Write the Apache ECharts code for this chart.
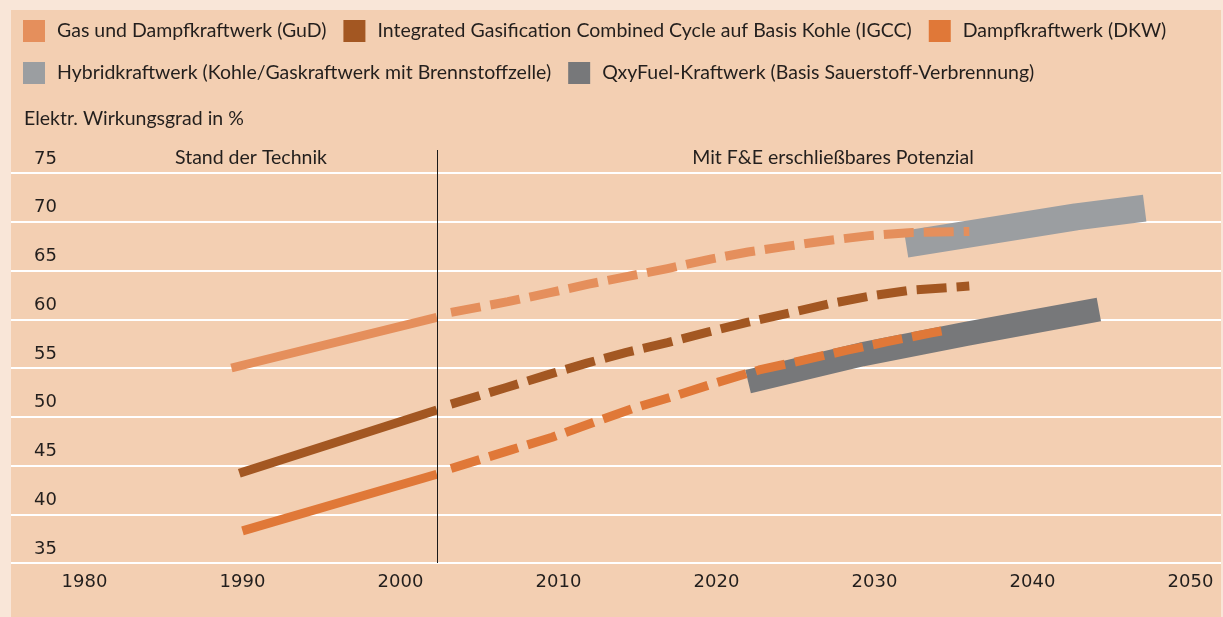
<!DOCTYPE html>
<html>
<head>
<meta charset="utf-8">
<script src="https://cdn.jsdelivr.net/npm/echarts@6/dist/echarts.min.js"></script>
<style>
  html, body { margin: 0; padding: 0; background: #f9e6d8; }
  #chart { width: 1223px; height: 617px; }
</style>
</head>
<body>
<div id="chart"></div>
<script>
// Elektrischer Wirkungsgrad von Kraftwerkstypen
const seriesNames = [
  "Gas und Dampfkraftwerk (GuD)",
  "Integrated Gasification Combined Cycle auf Basis Kohle (IGCC)",
  "Dampfkraftwerk (DKW)",
  "Hybridkraftwerk (Kohle/Gaskraftwerk mit Brennstoffzelle)",
  "QxyFuel-Kraftwerk (Basis Sauerstoff-Verbrennung)"
];
const seriesColors = ["#e58f5c", "#a35722", "#e07838", "#9b9ea1", "#77787a"];

const xTicks = [1980, 1990, 2000, 2010, 2020, 2030, 2040, 2050];
const yTicks = [35, 40, 45, 50, 55, 60, 65, 70, 75];

// [Jahr, Wirkungsgrad %]
const gudSolid = [[1989.3, 55.0], [2002.3, 60.2]];
const gudDashed = [[2003.2, 60.7], [2006.8, 61.8], [2009.4, 62.7], [2011.9, 63.6],
  [2014.4, 64.4], [2016.9, 65.2], [2019.7, 66.2], [2022.0, 66.9], [2024.5, 67.5], [2027.2, 68.1],
  [2029.8, 68.6], [2032.4, 68.9], [2036.0, 69.0]];
const igccSolid = [[1989.8, 44.2], [2002.3, 50.7]];
const igccDashed = [[2003.2, 51.3], [2006.7, 53.0], [2009.3, 54.3], [2011.8, 55.5],
  [2014.3, 56.6], [2016.9, 57.6], [2019.5, 58.7], [2022.0, 59.7], [2024.5, 60.6], [2027.2, 61.6],
  [2029.8, 62.4], [2032.4, 63.0], [2036.0, 63.4]];
const dkwSolid = [[1990.0, 38.3], [2002.3, 44.1]];
const dkwDashed = [[2003.2, 44.7], [2007.0, 46.6], [2009.6, 47.9], [2012.2, 49.4],
  [2014.8, 50.9], [2017.5, 52.2], [2020.0, 53.5], [2022.7, 54.8], [2025.5, 55.8], [2028.2, 56.8],
  [2030.8, 57.7], [2033.6, 58.6], [2034.6, 58.9]];
const hybrid = [[2032.0, 67.7], [2042.75, 70.5], [2047.1, 71.4]];
const oxyFuel = [[2022.0, 53.6], [2029.2, 56.4], [2035.8, 58.5], [2044.2, 61.0]];

const boundaryYear = 2002.3;
const yTitle = "Elektr. Wirkungsgrad in %";
const leftHeader = "Stand der Technik";
const rightHeader = "Mit F&E erschließbares Potenzial";

const textColor = "#231f1d";
const textFont = "Lato";
const tickFont = "DejaVu Sans";

const chart = echarts.init(document.getElementById("chart"));

const lineSeries = (idx, data, dashed, width, z) => ({
  name: seriesNames[idx],
  type: "line",
  data: data,
  color: seriesColors[idx],
  symbol: "none",
  smooth: false,
  z: z,
  lineStyle: {
    width: width,
    color: seriesColors[idx],
    type: dashed ? [30, 10] : "solid",
    cap: "butt",
    join: "round"
  }
});

const legendBase = {
  left: 23,
  padding: 0,
  itemWidth: 22,
  itemHeight: 22,
  itemGap: 17,
  icon: "rect",
  selectedMode: false,
  itemStyle: { borderWidth: 0 },
  textStyle: { fontFamily: textFont, fontSize: 19.5, color: textColor, padding: [9, 0, 0, 7] }
};

chart.setOption({
  backgroundColor: "#f9e6d8",
  animation: false,
  grid: { left: 11, right: 2, top: 173, bottom: 54 },
  legend: [
    Object.assign({}, legendBase, { top: 20, data: seriesNames.slice(0, 3) }),
    Object.assign({}, legendBase, { top: 62, data: seriesNames.slice(3) })
  ],
  xAxis: {
    type: "value",
    min: 1975.35,
    max: 2051.93,
    axisLine: { show: false },
    axisTick: { show: false },
    splitLine: { show: false },
    axisLabel: {
      customValues: xTicks,
      formatter: (v) => String(v),
      margin: 10,
      fontFamily: tickFont,
      fontSize: 18,
      color: textColor
    }
  },
  yAxis: {
    type: "value",
    min: yTicks[0],
    max: yTicks[yTicks.length - 1],
    interval: 5,
    axisLine: { show: false },
    axisTick: { show: false },
    splitLine: { lineStyle: { color: "#ffffff", width: 2 } },
    axisLabel: {
      inside: true,
      margin: 23,
      verticalAlign: "bottom",
      padding: [0, 0, 5, 0],
      fontFamily: tickFont,
      fontSize: 18,
      color: textColor
    }
  },
  series: [
    lineSeries(3, hybrid, false, 27, 1),
    lineSeries(4, oxyFuel, false, 24, 1),
    lineSeries(0, gudSolid, false, 9, 3),
    lineSeries(0, gudDashed, true, 9, 3),
    lineSeries(1, igccSolid, false, 9, 3),
    lineSeries(1, igccDashed, true, 9, 3),
    lineSeries(2, dkwSolid, false, 9, 3),
    lineSeries(2, dkwDashed, true, 9, 3)
  ]
});

// Trennlinie und Beschriftungen
const lineX = chart.convertToPixel({ xAxisIndex: 0 }, boundaryYear);
const lineBottom = chart.convertToPixel({ yAxisIndex: 0 }, yTicks[0]);

chart.setOption({
  graphic: [
    {
      type: "rect", id: "panel", silent: true, z: -10,
      shape: { x: 11, y: 10, width: 1210, height: 607 },
      style: { fill: "#f3cfb2" }
    },
    {
      type: "line", id: "boundary", silent: true, z: 10,
      shape: { x1: Math.round(lineX) + 0.5, y1: 150, x2: Math.round(lineX) + 0.5, y2: lineBottom },
      style: { stroke: "#1a1a1a", lineWidth: 1 }
    },
    {
      type: "text", id: "ytitle", silent: true, x: 24, y: 119,
      style: { text: yTitle, fill: textColor, font: "19.5px " + textFont, align: "left", verticalAlign: "middle" }
    },
    {
      type: "text", id: "left", silent: true, x: 251, y: 158,
      style: { text: leftHeader, fill: textColor, font: "19.5px " + textFont, align: "center", verticalAlign: "middle" }
    },
    {
      type: "text", id: "right", silent: true, x: 833, y: 158,
      style: { text: rightHeader, fill: textColor, font: "19.5px " + textFont, align: "center", verticalAlign: "middle" }
    }
  ]
});
</script>
</body>
</html>
